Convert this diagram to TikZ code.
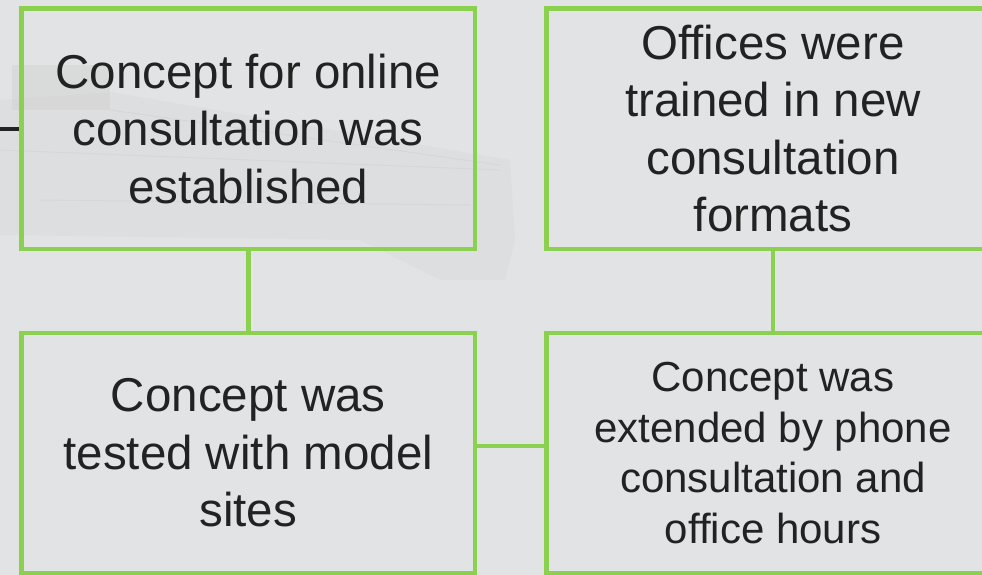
\documentclass[tikz,border=0pt]{standalone}
\usepackage{fontspec}
\setmainfont{Liberation Sans}
\definecolor{bgc}{HTML}{E1E3E4}
\definecolor{grn}{HTML}{8BD04E}
\definecolor{txt}{HTML}{222222}
\definecolor{crane}{HTML}{C9C8C4}
\begin{document}
\begin{tikzpicture}[x=1pt,y=-1pt,
  box/.style={draw=grn, line width=4.5pt, minimum width=453.5pt, minimum height=240.5pt,
    inner sep=0pt, align=center, text=txt},
  bigtext/.style={font=\fontsize{47.5}{57.5}\selectfont},
  smalltext/.style={font=\fontsize{42}{50.5}\selectfont},
  conn/.style={draw=grn, line width=4.5pt},
  darkconn/.style={draw=txt, line width=4pt}]
\useasboundingbox (0,0) rectangle (982,575);
\clip (0,0) rectangle (982,575);
\fill[bgc] (0,0) rectangle (982,575);
% faint crane in the background photo
\fill[crane, opacity=0.15] (0,100) -- (110,92) -- (510,160) -- (515,240) -- (505,280) -- (440,280) -- (360,240) -- (0,235) -- cycle;
\fill[crane, opacity=0.3] (12,65) rectangle (110,110);
\draw[crane, opacity=0.3, line width=1pt] (0,150) -- (500,170) (40,200) -- (470,205) (110,110) -- (500,165);
% boxes
\node[box, bigtext] (b1) at (248.25,128.75) {Concept for online\\consultation was\\established};
\node[box, bigtext] (b2) at (773,128.75) {Offices were\\trained in new\\consultation\\formats};
\node[box, bigtext] (b3) at (248.25,453) {Concept was\\tested with model\\sites};
\node[box, smalltext] (b4) at (773,453) {Concept was\\extended by phone\\consultation and\\office hours};
% connectors
\coordinate (lin) at (0,129);
\draw[darkconn] (lin) -- (lin -| b1.west);
\draw[conn] (b1.south) -- (b3.north);
\draw[conn] (b2.south) -- (b4.north);
\draw[conn] ([yshift=7pt]b3.east) -- ([yshift=7pt]b4.west);
\end{tikzpicture}
\end{document}
